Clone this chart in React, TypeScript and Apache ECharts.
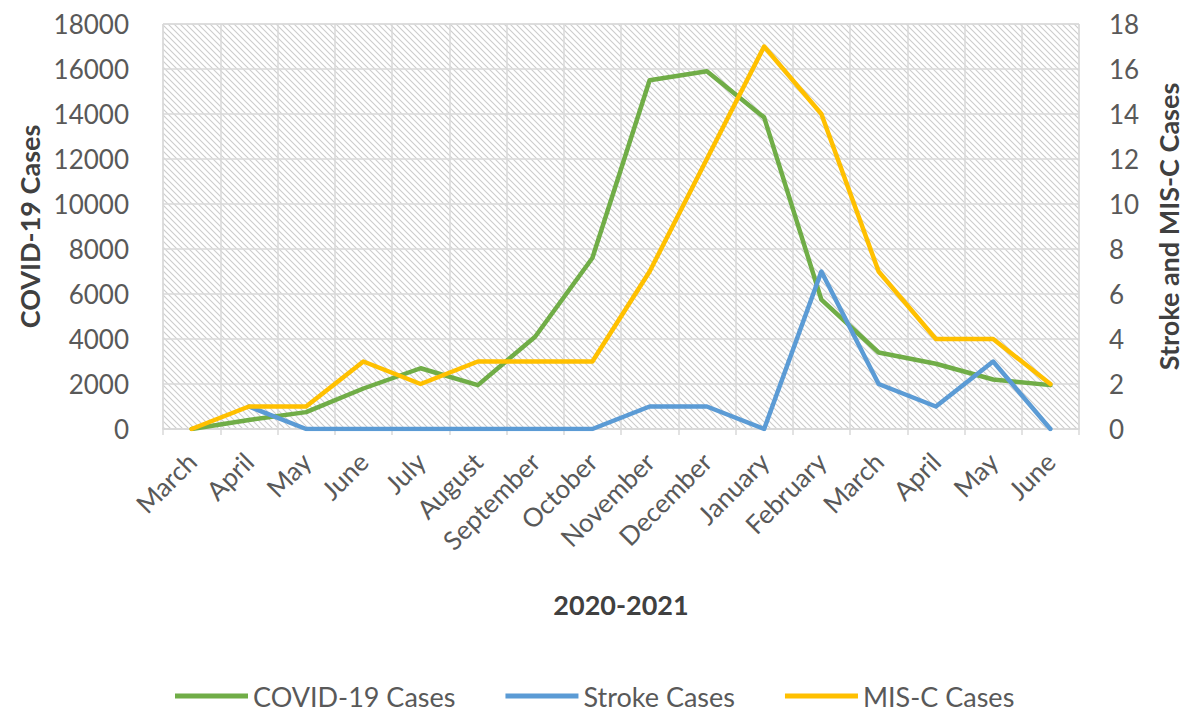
import React, { useEffect, useRef } from "react";
import * as echarts from "echarts";

const categories = [
  "March", "April", "May", "June", "July", "August", "September", "October",
  "November", "December", "January", "February", "March", "April", "May", "June",
];
const covidCases = [0, 400, 750, 1800, 2700, 1950, 4100, 7600, 15500, 15900, 13850, 5750, 3400, 2900, 2200, 1950];
const strokeCases = [null, 1, 0, 0, 0, 0, 0, 0, 1, 1, 0, 7, 2, 1, 3, 0];
const misCCases = [0, 1, 1, 3, 2, 3, 3, 3, 7, 12, 17, 14, 7, 4, 4, 2];
const leftTicks = { min: 0, max: 18000, interval: 2000 };
const rightTicks = { min: 0, max: 18, interval: 2 };

const FONT = "Lato";
const LABEL = "#595959";
const TITLE = "#404040";
const GRID = "#d9d9d9";

const tileSvg =
  "<svg xmlns='http://www.w3.org/2000/svg' width='6' height='6'>" +
  "<path d='M-1,-1 L7,7 M-1,5 L1,7 M5,-1 L7,1' stroke='#cccccc' stroke-width='1.1' fill='none'/></svg>";
const tileUrl = "data:image/svg+xml;charset=utf-8," + encodeURIComponent(tileSvg);

export default function App() {
  const ref = useRef<HTMLDivElement>(null);
  useEffect(() => {
    document.body.style.margin = "0";
    if (!ref.current) return;
    const chart = echarts.init(ref.current, null, { renderer: "svg" });
    chart.setOption({
      animation: false,
      backgroundColor: "#ffffff",
      textStyle: { fontFamily: FONT },
      grid: {
        left: 163,
        right: 109,
        top: 24,
        bottom: 285,
        show: true,
        borderColor: GRID,
        borderWidth: 1,
        backgroundColor: { image: tileUrl, repeat: "repeat", imageWidth: 6, imageHeight: 6 },
      },
      legend: {
        top: 682,
        left: 175,
        padding: 0,
        icon: "rect",
        itemWidth: 73,
        itemHeight: 5,
        itemGap: 50,
        textStyle: { fontFamily: FONT, fontSize: 27, lineHeight: 28, color: LABEL },
        data: ["COVID-19 Cases", "Stroke Cases", "MIS-C Cases"],
      },
      xAxis: {
        type: "category",
        data: categories,
        boundaryGap: true,
        name: "2020-2021",
        nameLocation: "middle",
        nameGap: 162,
        nameTextStyle: { fontFamily: FONT, fontSize: 27, fontWeight: "bold", color: TITLE },
        axisLine: { show: true, lineStyle: { color: GRID, width: 1.5 } },
        axisTick: { show: true, interval: 0, length: 6, lineStyle: { color: GRID, width: 1.5 } },
        splitLine: { show: true, interval: 0, lineStyle: { color: GRID, width: 1.5 } },
        axisLabel: {
          interval: 0,
          rotate: 45,
          margin: 28,
          fontFamily: FONT,
          fontSize: 26,
          color: LABEL,
        },
      },
      yAxis: [
        {
          type: "value",
          ...leftTicks,
          name: "COVID-19 Cases",
          nameLocation: "middle",
          nameGap: 120,
          nameTextStyle: { fontFamily: FONT, fontSize: 27, fontWeight: "bold", color: TITLE },
          axisLine: { show: false },
          axisTick: { show: false },
          splitLine: { show: true, lineStyle: { color: GRID, width: 1.5 } },
          axisLabel: { margin: 34, fontFamily: FONT, fontSize: 26, color: LABEL, formatter: (v: number) => String(v) },
        },
        {
          type: "value",
          ...rightTicks,
          name: "Stroke and MIS-C Cases",
          nameLocation: "middle",
          nameGap: 76,
          nameTextStyle: { fontFamily: FONT, fontSize: 27, fontWeight: "bold", color: TITLE },
          axisLine: { show: false },
          axisTick: { show: false },
          splitLine: { show: false },
          axisLabel: { margin: 30, fontFamily: FONT, fontSize: 26, color: LABEL, formatter: (v: number) => String(v) },
        },
      ],
      series: [
        {
          name: "COVID-19 Cases",
          type: "line",
          yAxisIndex: 0,
          data: covidCases,
          symbol: "none",
          itemStyle: { color: "#70ad47" },
          lineStyle: { color: "#70ad47", width: 4.5, join: "round", cap: "round" },
        },
        {
          name: "Stroke Cases",
          type: "line",
          yAxisIndex: 1,
          data: strokeCases,
          symbol: "none",
          itemStyle: { color: "#5b9bd5" },
          lineStyle: { color: "#5b9bd5", width: 4.5, join: "round", cap: "round" },
        },
        {
          name: "MIS-C Cases",
          type: "line",
          yAxisIndex: 1,
          data: misCCases,
          symbol: "none",
          itemStyle: { color: "#ffc000" },
          lineStyle: { color: "#ffc000", width: 4.5, join: "round", cap: "round" },
        },
      ],
    });
    return () => chart.dispose();
  }, []);
  return <div ref={ref} style={{ width: 1190, height: 714 }} />;
}
